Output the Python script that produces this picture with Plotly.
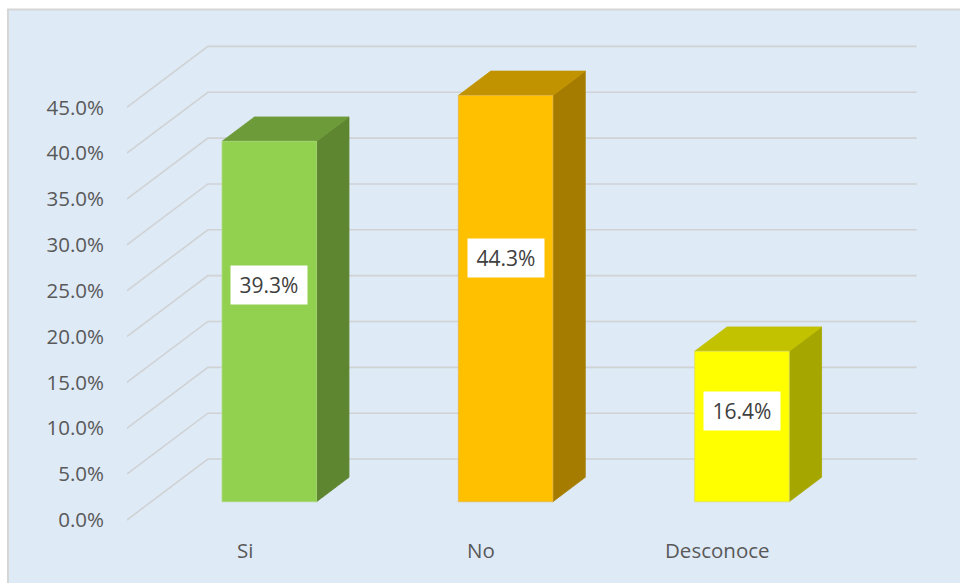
import plotly.graph_objects as go

# ---- data ----
categories = ["Si", "No", "Desconoce"]
values = [39.3, 44.3, 16.4]
tick_values = [0, 5, 10, 15, 20, 25, 30, 35, 40, 45]
tick_labels = [f"{v:.1f}%" for v in tick_values]

front_colors = ["#92D050", "#FFC000", "#FFFF00"]
top_colors = ["#6E9B3A", "#C29300", "#C2C200"]
side_colors = ["#5E8530", "#A67C00", "#A6A600"]
edge_colors = ["#A9D97A", "#E6B84A", "#E0E060"]

# ---- pseudo-3D geometry (in axis units) ----
DEPTH_X = 0.3428      # full floor depth, horizontal shift (category units)
DEPTH_Y = 6.65        # full floor depth, vertical shift (percent units)
BAR_D0, BAR_D1 = 0.3, 0.7   # bar occupies this slice of the floor depth
BAR_HALF = 0.2               # half bar width (category units)
X_LEFT, X_RIGHT = -0.5, len(categories) - 0.5

fig = go.Figure()

# gridlines: slanted on the left side wall, horizontal on the back wall
for v in tick_values:
    fig.add_trace(go.Scatter(
        x=[X_LEFT, X_LEFT + DEPTH_X, X_RIGHT + DEPTH_X],
        y=[v, v + DEPTH_Y, v + DEPTH_Y],
        mode="lines", line=dict(color="#D0D2D4", width=1.6),
        hoverinfo="skip", showlegend=False))


def poly(xs, ys, fill, edge):
    fig.add_trace(go.Scatter(
        x=xs + [xs[0]], y=ys + [ys[0]], mode="lines", fill="toself",
        fillcolor=fill, line=dict(color=edge, width=0.8),
        hoverinfo="skip", showlegend=False))


for i, v in enumerate(values):
    fx0 = i - BAR_HALF + BAR_D0 * DEPTH_X
    fx1 = i + BAR_HALF + BAR_D0 * DEPTH_X
    fy0 = BAR_D0 * DEPTH_Y
    dx = (BAR_D1 - BAR_D0) * DEPTH_X
    dy = (BAR_D1 - BAR_D0) * DEPTH_Y
    ytop = fy0 + v
    # right side face
    poly([fx1, fx1 + dx, fx1 + dx, fx1], [fy0, fy0 + dy, ytop + dy, ytop],
         side_colors[i], side_colors[i])
    # top face
    poly([fx0, fx1, fx1 + dx, fx0 + dx], [ytop, ytop, ytop + dy, ytop + dy],
         top_colors[i], top_colors[i])
    # front face
    poly([fx0, fx1, fx1, fx0], [fy0, fy0, ytop, ytop],
         front_colors[i], edge_colors[i])
    # value label
    fig.add_annotation(
        x=i + BAR_D0 * DEPTH_X, y=fy0 + 0.6 * v,
        text=f"{v:.1f}%", showarrow=False,
        font=dict(family="Open Sans", size=21, color="#404040"),
        bgcolor="#FFFFFF", width=76, height=38, borderpad=0)

# category labels along the front edge of the floor
for i, c in enumerate(categories):
    fig.add_annotation(
        x=i, y=-3.3, text=c, showarrow=False,
        font=dict(family="Open Sans", size=20.5, color="#595959"))

# chart area background with its border
fig.add_shape(type="rect", xref="paper", yref="paper",
              x0=-0.1429, x1=1.01, y0=-0.01, y1=0.9837,
              fillcolor="#DEEAF6", line=dict(color="#D6D6D6", width=2),
              layer="below")

fig.update_layout(
    width=960, height=583,
    margin=dict(l=127, r=0, t=0, b=0),
    paper_bgcolor="#FFFFFF",
    plot_bgcolor="rgba(0,0,0,0)",
    showlegend=False,
    xaxis=dict(range=[-0.4994, 3.0258], visible=False, fixedrange=True),
    yaxis=dict(range=[-6.87, 56.71], tickvals=tick_values, ticktext=tick_labels,
               showgrid=False, zeroline=False, showline=False, ticks="",
               ticklabelstandoff=22,
               tickfont=dict(family="Open Sans", size=20.5, color="#595959"),
               fixedrange=True),
)

fig.write_html("out.html")
